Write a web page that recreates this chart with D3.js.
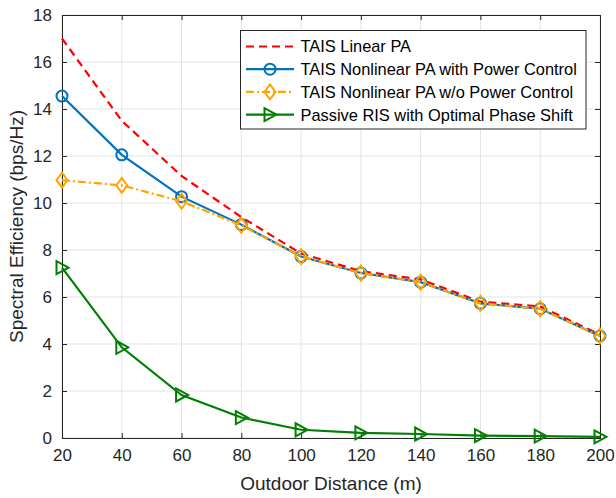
<!DOCTYPE html>
<html><head><meta charset="utf-8">
<script src="https://cdn.jsdelivr.net/npm/d3@7"></script>
<style>body{margin:0;background:#fff}svg{display:block;font-family:"Liberation Sans",Arial,Helvetica,sans-serif}</style>
</head><body><svg id="c" width="616" height="498"></svg>
<script>
const distance = [20,40,60,80,100,120,140,160,180,200];
const linearPA = [17.0,13.5,11.15,9.4,7.85,7.1,6.75,5.8,5.6,4.4];
const nonlinearPC = [14.55,12.05,10.27,9.08,7.72,7.02,6.63,5.73,5.5,4.34];
const nonlinearNoPC = [10.97,10.75,10.07,9.05,7.72,7.02,6.63,5.73,5.5,4.34];
const passiveRIS = [7.25,3.86,1.83,0.87,0.35,0.22,0.17,0.1,0.08,0.05];
const xTicks = [20,40,60,80,100,120,140,160,180,200];
const yTicks = [0,2,4,6,8,10,12,14,16,18];
const seriesNames = ["TAIS Linear PA","TAIS Nonlinear PA with Power Control","TAIS Nonlinear PA w/o Power Control","Passive RIS with Optimal Phase Shift"];

const series = [
  {name:seriesNames[0], values:linearPA, color:"#ff0000", dash:"8,5", marker:null},
  {name:seriesNames[1], values:nonlinearPC, color:"#0072bd", dash:null, marker:"circle"},
  {name:seriesNames[2], values:nonlinearNoPC, color:"#ffa500", dash:"8,3,2,3", marker:"diamond"},
  {name:seriesNames[3], values:passiveRIS, color:"#008000", dash:null, marker:"triangle"}
];

const svg = d3.select("#c");
const L=62,R=600,T=15,B=438;
const x = d3.scaleLinear().domain([20,200]).range([L,R]);
const y = d3.scaleLinear().domain([0,18]).range([B,T]);
const ax="#262626";

// grid
const g = svg.append("g");
g.selectAll(".gx").data(xTicks).join("line").attr("x1",d=>x(d)).attr("x2",d=>x(d)).attr("y1",T).attr("y2",B).attr("stroke","#e3e3e3").attr("stroke-width",1);
g.selectAll(".gy").data(yTicks).join("line").attr("y1",d=>y(d)).attr("y2",d=>y(d)).attr("x1",L).attr("x2",R).attr("stroke","#e3e3e3").attr("stroke-width",1);

// axes
const fs=17;
const xa = svg.append("g").attr("transform",`translate(0,${B})`).call(d3.axisBottom(x).tickValues(xTicks).tickSize(-5).tickPadding(11));
const xt = svg.append("g").attr("transform",`translate(0,${T})`).call(d3.axisTop(x).tickValues(xTicks).tickSize(-5).tickFormat(""));
const ya = svg.append("g").attr("transform",`translate(${L},0)`).call(d3.axisLeft(y).tickValues(yTicks).tickSize(-5).tickPadding(10));
const yr = svg.append("g").attr("transform",`translate(${R},0)`).call(d3.axisRight(y).tickValues(yTicks).tickSize(-5).tickFormat(""));
[xa,xt,ya,yr].forEach(a=>{a.select(".domain").attr("stroke",ax).attr("stroke-width",1);a.selectAll("line").attr("stroke",ax);a.selectAll("text").attr("fill",ax).style("font-size",fs+"px").style("font-family","Liberation Sans, Arial, sans-serif");});

// lines
const line = d3.line().x((d,i)=>x(distance[i])).y(d=>y(d));
function marker(sel, type, color){
  if(type==="circle") sel.append("circle").attr("r",5.5).attr("fill","none").attr("stroke",color).attr("stroke-width",2);
  else if(type==="diamond") sel.append("path").attr("d","M0,-7.5L5.5,0L0,7.5L-5.5,0Z").attr("fill","none").attr("stroke",color).attr("stroke-width",2);
  else if(type==="triangle") sel.append("path").attr("d","M6.5,0L-5.5,-6.5L-5.5,6.5Z").attr("fill","none").attr("stroke",color).attr("stroke-width",2);
}
series.forEach(s=>{
  svg.append("path").datum(s.values).attr("d",line).attr("fill","none").attr("stroke",s.color).attr("stroke-width",2.2).attr("stroke-dasharray",s.dash);
  if(s.marker){
    s.values.forEach((v,i)=>{
      const m = svg.append("g").attr("transform",`translate(${x(distance[i])},${y(v)})`);
      marker(m,s.marker,s.color);
    });
  }
});

// legend
const lg = svg.append("g");
lg.append("rect").attr("x",240.5).attr("y",30.5).attr("width",345.5).attr("height",98.5).attr("fill","#fff").attr("stroke",ax).attr("stroke-width",1);
series.forEach((s,i)=>{
  const yy = 46.5 + i*22.7;
  lg.append("line").attr("x1",246).attr("x2",294).attr("y1",yy).attr("y2",yy).attr("stroke",s.color).attr("stroke-width",2.2).attr("stroke-dasharray",s.dash);
  if(s.marker){ marker(lg.append("g").attr("transform",`translate(270,${yy})`), s.marker, s.color); }
  lg.append("text").attr("x",300.5).attr("y",yy).attr("dy","0.36em").attr("fill","#000").style("font-size","16.4px").text(s.name);
});

// axis titles
svg.append("text").attr("x",(L+R)/2).attr("y",490).attr("text-anchor","middle").attr("fill",ax).style("font-size","19px").text("Outdoor Distance (m)");
svg.append("text").attr("transform",`translate(23,${(T+B)/2}) rotate(-90)`).attr("text-anchor","middle").attr("fill",ax).style("font-size","19px").text("Spectral Efficiency (bps/Hz)");
</script></body></html>
